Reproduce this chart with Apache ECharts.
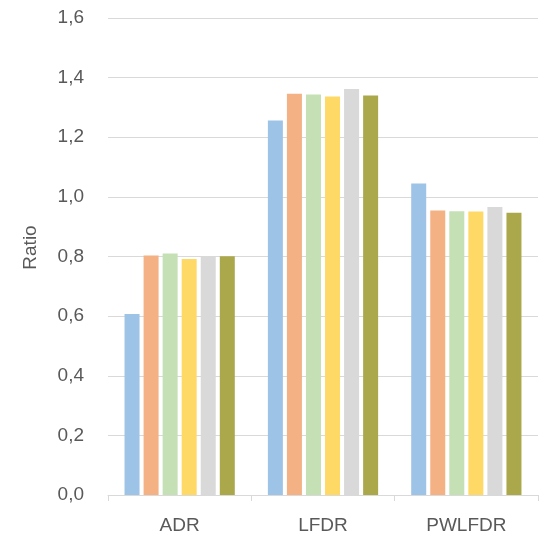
<!DOCTYPE html>
<html lang="en">
<head>
    <meta charset="UTF-8">
    <title>Ratio</title>
    <style>
        html, body { margin: 0; padding: 0; background: #fff; }
        #chart { width: 543px; height: 536px; }
    </style>
</head>
<body>
    <div id="chart"></div>
    <script src="https://cdn.jsdelivr.net/npm/echarts@6/dist/echarts.min.js"></script>
    <script>
        // categories on the x axis
        var categories = ['ADR', 'LFDR', 'PWLFDR'];

        // six unnamed series, one value per category
        var s1 = [0.607, 1.256, 1.045];
        var s2 = [0.803, 1.346, 0.954];
        var s3 = [0.810, 1.343, 0.952];
        var s4 = [0.792, 1.337, 0.951];
        var s5 = [0.802, 1.362, 0.966];
        var s6 = [0.801, 1.340, 0.947];

        var seriesData = [s1, s2, s3, s4, s5, s6];
        var colors = ['#9DC3E6', '#F4B183', '#C5E0B4', '#FFD966', '#D9D9D9', '#ABA84B'];

        var chart = echarts.init(document.getElementById('chart'));

        var series = seriesData.map(function (d, i) {
            return {
                type: 'bar',
                data: d,
                barWidth: 15,
                barGap: '27%',
                itemStyle: { color: colors[i] }
            };
        });

        var option = {
            animation: false,
            textStyle: { fontFamily: 'Liberation Sans' },
            grid: { left: 108, right: 5, top: 18, bottom: 41 },
            xAxis: {
                type: 'category',
                data: categories,
                axisLine: { lineStyle: { color: '#D9D9D9', width: 1 } },
                axisTick: { show: true, length: 6, lineStyle: { color: '#D9D9D9' } },
                axisLabel: { color: '#595959', fontSize: 19, margin: 21 }
            },
            yAxis: {
                type: 'value',
                min: 0,
                max: 1.6,
                interval: 0.2,
                name: 'Ratio',
                nameLocation: 'middle',
                nameGap: 68,
                nameTextStyle: { color: '#595959', fontSize: 19, padding: [0, 0, 0, 18] },
                axisLine: { show: false },
                axisTick: { show: false },
                splitLine: { lineStyle: { color: '#D9D9D9', width: 1 } },
                axisLabel: {
                    color: '#595959',
                    fontSize: 19,
                    margin: 24,
                    formatter: function (v) { return v.toFixed(1).replace('.', ','); }
                }
            },
            series: series
        };

        chart.setOption(option);
    </script>
</body>
</html>
